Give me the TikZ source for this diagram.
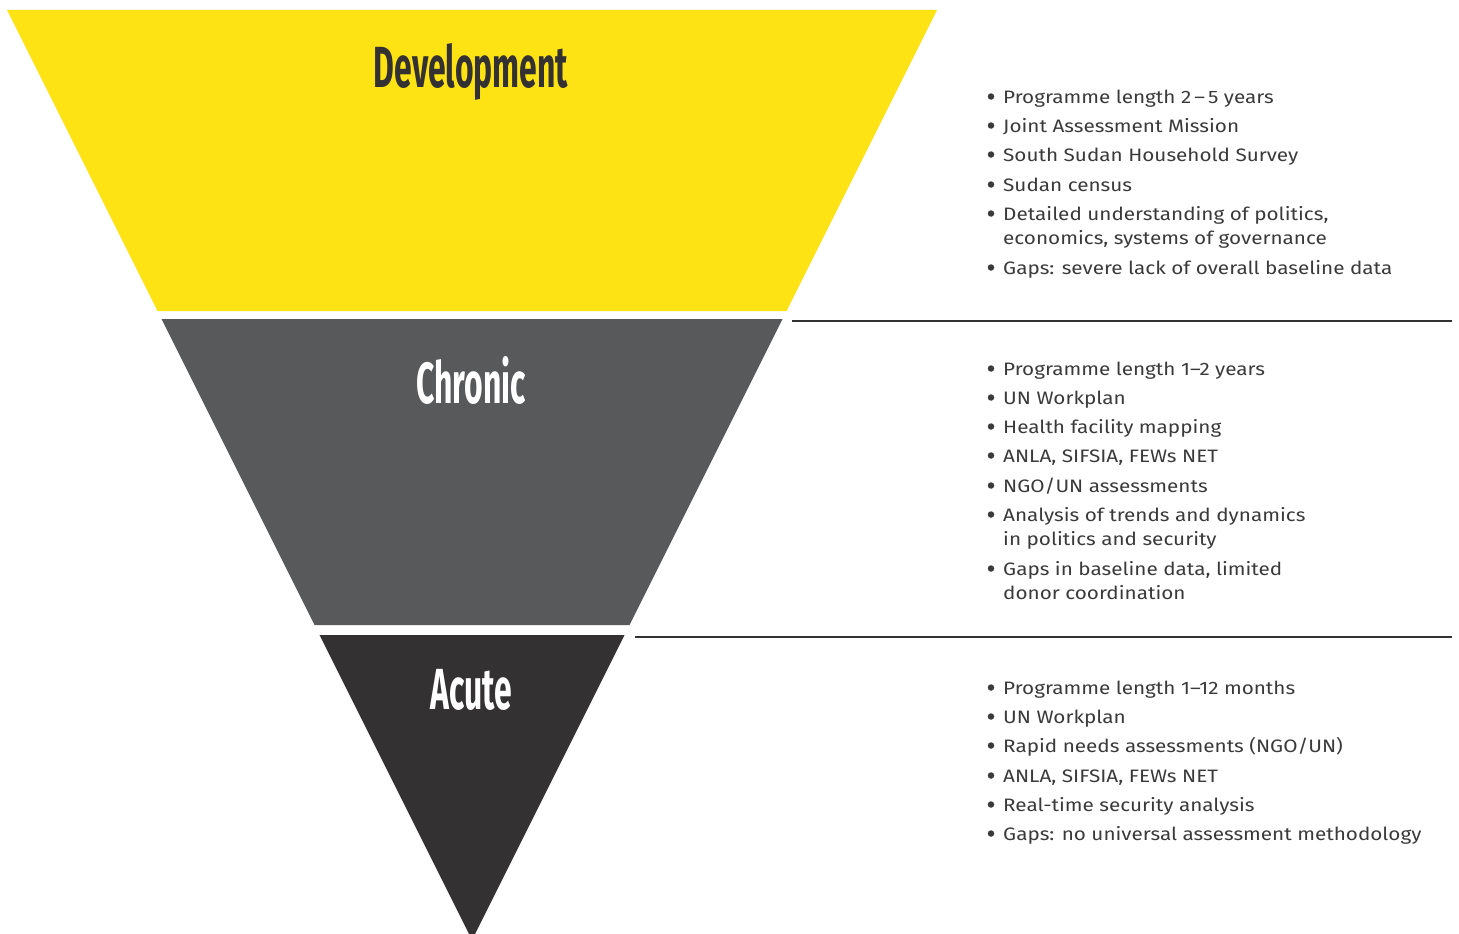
\documentclass[tikz,border=0pt]{standalone}
\usepackage{fontspec}
\setmainfont[FakeStretch=1.15]{Fira Sans}
\newfontfamily\titlefont[FakeStretch=0.55]{Fira Sans}
\definecolor{ylw}{HTML}{FDE314}
\definecolor{midgrey}{HTML}{58595B}
\definecolor{darkgrey}{HTML}{333132}
\definecolor{txt}{HTML}{3A3A3A}
\begin{document}
\begin{tikzpicture}[x=1pt,y=-1pt,
  title/.style={font=\titlefont\bfseries\fontsize{58}{58}\selectfont, anchor=center, inner sep=0},
  item/.style={anchor=base west, inner sep=0, font=\fontsize{18}{24}\selectfont, text=txt},
  bul/.style={circle, fill=txt, minimum size=6.5pt, inner sep=0},
  sepline/.style={line width=2pt, draw=darkgrey}]
\useasboundingbox (0,0) rectangle (1459,934);
% slices of the inverted triangle
\fill[ylw] (7,10) -- (937,10) -- (786.5,311) -- (157.5,311) -- cycle;
\fill[midgrey] (161.5,319) -- (782.5,319) -- (629.5,625) -- (314.5,625) -- cycle;
\fill[darkgrey] (319.5,635) -- (624.5,635) -- (472,940) -- cycle;
% titles
\node[title, text=darkgrey] (tdev) at (471,72) {Development};
\node[title, text=white] (tchr) at (471,380) {Chronic};
\node[title, text=white] (tacu) at (471,690) {Acute};
% separators
\coordinate (s1a) at (792,321); \coordinate (s1b) at (1452,321);
\coordinate (s2a) at (635,637); \coordinate (s2b) at (1452,637);
\draw[sepline] (s1a) -- (s1b);
\draw[sepline] (s2a) -- (s2b);
% block 1
\foreach \y/\t [count=\i] in {103/{Programme length 2\,–\,5 years}, 132/{Joint Assessment Mission}, 161/{South Sudan Household Survey}, 191/{Sudan census}, 220/{Detailed understanding of politics,}, 274/{Gaps: severe lack of overall baseline data}}{
  \node[bul] (da\i) at (991,\y-6.5) {};
  \node[item] (d\i) at (1003,\y) {\t};
}
\node[item] (d5b) at (1003,244) {economics, systems of governance};
% block 2
\foreach \y/\t [count=\i] in {375/{Programme length 1–2 years}, 404/{UN Workplan}, 433/{Health facility mapping}, 462/{ANLA, SIFSIA, FEWs NET}, 492/{NGO/UN assessments}, 521/{Analysis of trends and dynamics}, 575/{Gaps in baseline data, limited}}{
  \node[bul] (ca\i) at (991,\y-6.5) {};
  \node[item] (c\i) at (1003,\y) {\t};
}
\node[item] (c6b) at (1003,545) {in politics and security};
\node[item] (c7b) at (1003,599) {donor coordination};
% block 3
\foreach \y/\t [count=\i] in {694/{Programme length 1–12 months}, 723/{UN Workplan}, 752/{Rapid needs assessments (NGO/UN)}, 782/{ANLA, SIFSIA, FEWs NET}, 811/{Real-time security analysis}, 840/{Gaps: no universal assessment methodology}}{
  \node[bul] (aa\i) at (991,\y-6.5) {};
  \node[item] (a\i) at (1003,\y) {\t};
}
\end{tikzpicture}
\end{document}
